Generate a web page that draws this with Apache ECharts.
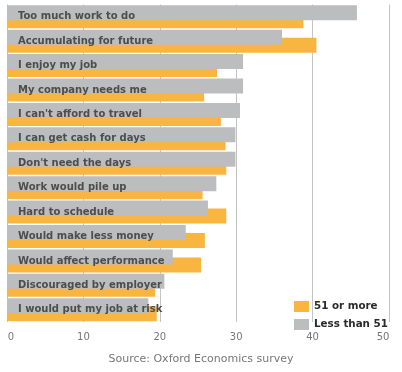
<!DOCTYPE html>
<html><head><meta charset="utf-8">
<script src="https://cdn.jsdelivr.net/npm/echarts@6/dist/echarts.min.js"></script>
<style>html,body{margin:0;padding:0;background:#fff}#c{width:402px;height:372px}</style>
</head><body><div id="c"></div>
<script>
const categories = ["Too much work to do","Accumulating for future","I enjoy my job","My company needs me","I can't afford to travel","I can get cash for days","Don't need the days","Work would pile up","Hard to schedule","Would make less money","Would affect performance","Discouraged by employer","I would put my job at risk"];
const over51 = [38.8,40.5,27.5,25.8,28.0,28.6,28.7,25.6,28.7,25.9,25.4,19.4,19.6];
const under51 = [45.8,36.0,30.9,30.9,30.5,29.9,29.9,27.4,26.3,23.4,21.7,20.6,18.5];
const xTicks = {min:0, max:50, interval:10};
const sourceText = "Source: Oxford Economics survey";

const chart = echarts.init(document.getElementById('c'), null, {renderer:'canvas'});
chart.setOption({
  animation:false,
  grid:{left:7, right:13, top:4.5, bottom:50, containLabel:false},
  title:{text:sourceText, left:'center', top:349,
    textStyle:{fontFamily:'DejaVu Sans', fontSize:11, fontWeight:'normal', color:'#777'}},
  legend:{orient:'vertical', left:294, top:301, padding:0, itemWidth:15, itemHeight:11, itemGap:7,
    data:['51 or more','Less than 51'], icon:'rect',
    textStyle:{fontFamily:'DejaVu Sans', fontSize:10.3, fontWeight:'bold', color:'#2b2b2b'}},
  xAxis:{type:'value', min:xTicks.min, max:xTicks.max, interval:xTicks.interval,
    axisLine:{show:false}, axisTick:{show:false},
    splitLine:{lineStyle:{color:'#c4c4c4', width:1}},
    axisLabel:{fontFamily:'DejaVu Sans', fontSize:10, color:'#777', margin:10,
      formatter:function(v){ if(v===xTicks.max) return '{e|'+v+'}'; if(v===xTicks.min) return '{s|'+v+'}'; return ''+v; },
      rich:{e:{fontFamily:'DejaVu Sans', fontSize:10, color:'#777', padding:[0,12,0,0]},
            s:{fontFamily:'DejaVu Sans', fontSize:10, color:'#777', padding:[0,0,0,8]}}}},
  yAxis:{type:'category', data:categories, inverse:true, z:10,
    axisLine:{show:false}, axisTick:{show:false},
    axisLabel:{inside:true, margin:11, fontFamily:'DejaVu Sans', fontSize:10, fontWeight:'bold', color:'#4d4d4d'}},
  series:[
    {name:'Less than 51', type:'bar', data:under51, barWidth:15, barGap:'-46.7%', z:3,
      itemStyle:{color:'#bcbdbf'}},
    {name:'51 or more', type:'bar', data:over51, barWidth:15, barGap:'-46.7%', z:2,
      itemStyle:{color:'#f8b540'}}
  ]
});
</script></body></html>
